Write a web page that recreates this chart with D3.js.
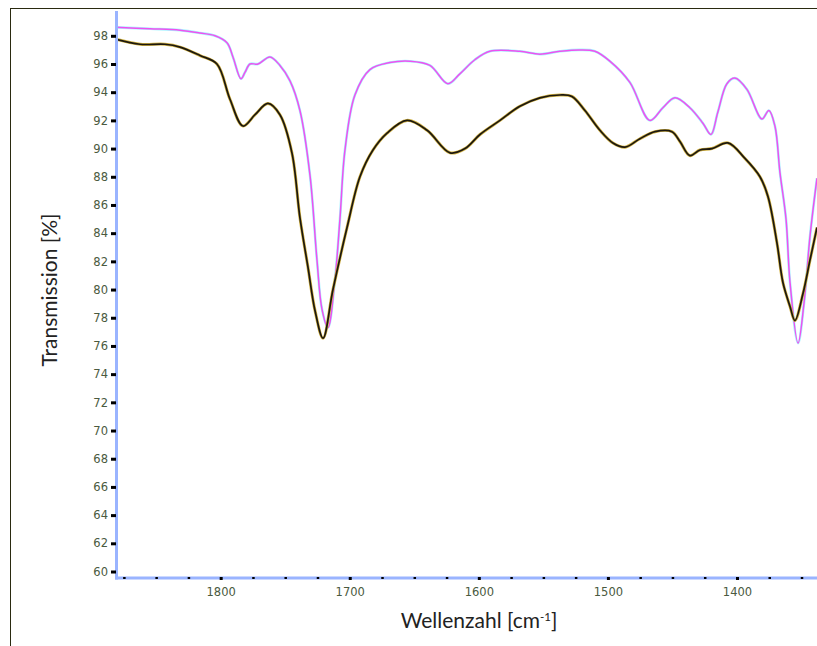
<!DOCTYPE html>
<html><head><meta charset="utf-8">
<script src="https://cdn.jsdelivr.net/npm/d3@7"></script>
<style>body{margin:0;background:#fff}svg{display:block}</style>
</head><body>
<script>
// Data (wavenumber cm^-1, transmission %)
const upperWn = [1881.1,1854.8,1831.5,1816.0,1804.4,1795.1,1790.5,1784.3,1781.2,1777.3,1771.1,1761.8,1754.1,1746.3,1738.6,1730.8,1725.4,1721.5,1716.9,1711.5,1707.6,1703.7,1696.0,1684.4,1668.9,1653.4,1637.9,1624.0,1614.7,1603.1,1591.4,1568.2,1552.7,1537.2,1521.7,1510.1,1498.5,1483.0,1467.5,1457.4,1448.1,1436.5,1426.4,1420.2,1414.8,1407.8,1401.6,1392.3,1380.7,1375.3,1370.6,1366.7,1362.0,1358.9,1352.7,1348.1,1343.4,1338.0];
const upperT  = [98.6,98.5,98.4,98.2,98.0,97.5,96.5,94.95,95.4,96.0,96.0,96.5,95.9,94.8,92.7,88.1,82.1,78.6,77.3,80.7,85.0,89.9,93.8,95.6,96.1,96.2,95.9,94.6,95.3,96.3,96.9,96.9,96.7,96.9,97.0,96.9,96.2,94.7,92.0,92.9,93.6,92.9,91.8,91.0,92.6,94.6,95.0,94.2,92.1,92.7,91.6,88.3,85.0,80.5,76.2,79.0,83.8,87.9];
const lowerWn = [1881.1,1862.5,1843.2,1831.5,1816.0,1802.9,1792.8,1782.7,1773.4,1763.4,1754.1,1744.8,1738.6,1732.4,1726.9,1720.7,1713.0,1702.1,1692.1,1682.0,1671.1,1655.6,1640.1,1622.3,1610.7,1599.1,1583.6,1568.2,1552.7,1537.2,1527.9,1517.8,1506.2,1496.1,1486.8,1475.2,1463.5,1450.4,1444.2,1436.5,1428.7,1419.4,1407.0,1393.8,1382.2,1376.0,1369.0,1364.4,1358.9,1355.1,1348.9,1343.4,1338.0];
const lowerT  = [97.75,97.4,97.4,97.2,96.6,96.0,93.5,91.6,92.4,93.2,92.4,89.7,85.1,81.6,78.5,76.55,80.0,84.4,88.0,89.9,91.1,92.0,91.3,89.7,90.0,91.0,92.0,93.0,93.6,93.8,93.7,92.7,91.3,90.4,90.1,90.7,91.2,91.2,90.5,89.5,89.9,90.0,90.4,89.3,88.0,86.6,83.3,80.5,78.8,77.8,79.7,82.1,84.4];
const yTicks = [60,62,64,66,68,70,72,74,76,78,80,82,84,86,88,90,92,94,96,98];
const xMajor = [1800,1700,1600,1500,1400];
const xMinor = [1875,1850,1825,1775,1750,1725,1675,1650,1625,1575,1550,1525,1475,1450,1425,1375,1350];

const W = 817, H = 646;
const svg = d3.select("body").append("svg").attr("width", W).attr("height", H);

const x = d3.scaleLinear().domain([1881.1, 1338.0]).range([116, 817]);
const y = d3.scaleLinear().domain([60, 98]).range([571.5, 35.8]);

// outer frame
svg.append("rect").attr("x", 10.5).attr("y", 8.5).attr("width", 900).attr("height", 700)
  .attr("fill", "none").attr("stroke", "#2a2a10").attr("stroke-width", 1);

svg.append("clipPath").attr("id", "c").append("rect")
  .attr("x", 116).attr("y", 10).attr("width", 701).attr("height", 568);

const line = d3.line().x(d => x(d[0])).y(d => y(d[1])).curve(d3.curveCatmullRom.alpha(0.5));
const up = d3.zip(upperWn, upperT), lo = d3.zip(lowerWn, lowerT);

const g = svg.append("g").attr("clip-path", "url(#c)");
g.append("path").datum(up).attr("d", line).attr("fill", "none").attr("stroke", "#a8f4ff").attr("stroke-width", 2.6);
g.append("path").datum(up).attr("d", line).attr("fill", "none").attr("stroke", "#f050f0").attr("stroke-width", 1.5);
g.append("path").datum(lo).attr("d", line).attr("fill", "none").attr("stroke", "#d0b040").attr("stroke-width", 3);
g.append("path").datum(lo).attr("d", line).attr("fill", "none").attr("stroke", "#1c1810").attr("stroke-width", 1.7);

// Y axis
const yAxis = d3.axisLeft(y).tickValues(yTicks).tickSize(5).tickPadding(3);
const ya = svg.append("g").attr("transform", "translate(116,0)").call(yAxis);
ya.select(".domain").remove();
ya.selectAll(".tick line").attr("stroke", "#000").attr("stroke-width", 3);
ya.selectAll(".tick text").attr("font-family", "DejaVu Sans, Verdana, sans-serif").attr("font-size", 11.5).attr("fill", "#4a5a40");

// X axis (major)
const xAxis = d3.axisBottom(x).tickValues(xMajor).tickSize(3).tickPadding(8).tickFormat(d3.format("d"));
const xa = svg.append("g").attr("transform", "translate(0,577)").call(xAxis);
xa.select(".domain").remove();
xa.selectAll(".tick line").attr("stroke", "#000").attr("stroke-width", 3);
xa.selectAll(".tick text").attr("font-family", "DejaVu Sans, Verdana, sans-serif").attr("font-size", 11.5).attr("fill", "#4a5a40");
// minor
const xm = d3.axisBottom(x).tickValues(xMinor).tickSize(2).tickFormat("");
const xma = svg.append("g").attr("transform", "translate(0,577)").call(xm);
xma.select(".domain").remove();
xma.selectAll(".tick line").attr("stroke", "#000").attr("stroke-width", 2.5);

// axis lines
svg.append("line").attr("x1", 116.5).attr("x2", 116.5).attr("y1", 11).attr("y2", 579.5)
  .attr("stroke", "#9ab4ff").attr("stroke-width", 3);
svg.append("line").attr("x1", 115).attr("x2", 817).attr("y1", 578).attr("y2", 578)
  .attr("stroke", "#9ab4ff").attr("stroke-width", 3);
ya.raise(); xa.raise(); xma.raise();

// titles
svg.append("text").attr("x", 479).attr("y", 628).attr("text-anchor", "middle")
  .attr("font-family", "Lato, sans-serif").attr("font-size", 21).attr("fill", "#222")
  .html('Wellenzahl [cm<tspan dy="-7" font-size="11.5">-1</tspan><tspan dy="7">]</tspan>');
svg.append("text").attr("transform", "translate(57,290) rotate(-90)").attr("text-anchor", "middle")
  .attr("font-family", "Lato, sans-serif").attr("font-size", 21).attr("fill", "#222")
  .text("Transmission [%]");
</script>
</body></html>
